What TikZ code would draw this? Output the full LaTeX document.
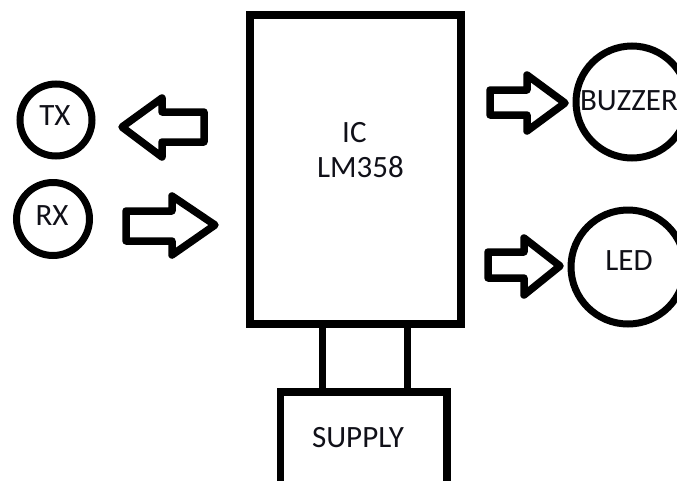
\documentclass[tikz,border=0pt]{standalone}
\usepackage{fontspec}
\setmainfont{Carlito}
\definecolor{txt}{HTML}{101018}
\begin{document}
\begin{tikzpicture}[x=1pt,y=-1pt,
  blk/.style={draw=black, line width=7.5pt, inner sep=0pt, outer sep=0pt},
  ring/.style={draw=black, circle, line width=7pt, inner sep=0pt, outer sep=0pt},
  blockarrow/.style={draw=black, line width=7.5pt, line join=round},
  wire/.style={draw=black, line width=7pt},
  lbl/.style={font=\fontsize{31}{35}\selectfont, text=txt, inner sep=0pt}]
\useasboundingbox (0,0) rectangle (677,480);
% main blocks
\node[blk, minimum width=211pt, minimum height=309pt] (ic) at (355.5,169.5) {};
\node[blk, minimum width=166.5pt, minimum height=140pt] (sup) at (363.75,462) {};
% circles
\node[ring, minimum size=72pt] (tx) at (56,120) {};
\node[ring, minimum size=73pt] (rx) at (53,219) {};
\node[ring, minimum size=112pt] (buz) at (632,102) {};
\node[ring, minimum size=114pt] (led) at (628,267) {};
% labels
\node[lbl, anchor=base] (ttx) at (55,125) {TX};
\node[lbl, anchor=base] (trx) at (52,225) {RX};
\node[lbl, anchor=base] (tbuz) at (629,110) {BUZZER};
\node[lbl, anchor=base] (tled) at (629,270) {LED};
\node[lbl, anchor=base] (tsup) at (358,447) {SUPPLY};
\node[lbl, anchor=base west] (tic) at (342,142) {IC};
\node[lbl, anchor=base west] (tlm) at (317,177) {LM358};
% supply wires
\draw[wire] ([xshift=72pt]ic.south west) -- ([xshift=72pt]ic.south west |- sup.north);
\draw[wire] ([xshift=157pt]ic.south west) -- ([xshift=157pt]ic.south west |- sup.north);
% block arrows
\draw[blockarrow] (122,127) -- (162,98) -- (162,112) -- (204,112) -- (204,142) -- (162,142) -- (162,157) -- cycle;
\draw[blockarrow] (215,225) -- (172,196) -- (172,211) -- (126,211) -- (126,241) -- (172,241) -- (172,255) -- cycle;
\draw[blockarrow] (565,103) -- (527,75) -- (527,90) -- (490,90) -- (490,115) -- (527,115) -- (527,131) -- cycle;
\draw[blockarrow] (560,266) -- (524,238) -- (524,252) -- (488,252) -- (488,278) -- (524,278) -- (524,295) -- cycle;
\end{tikzpicture}
\end{document}
